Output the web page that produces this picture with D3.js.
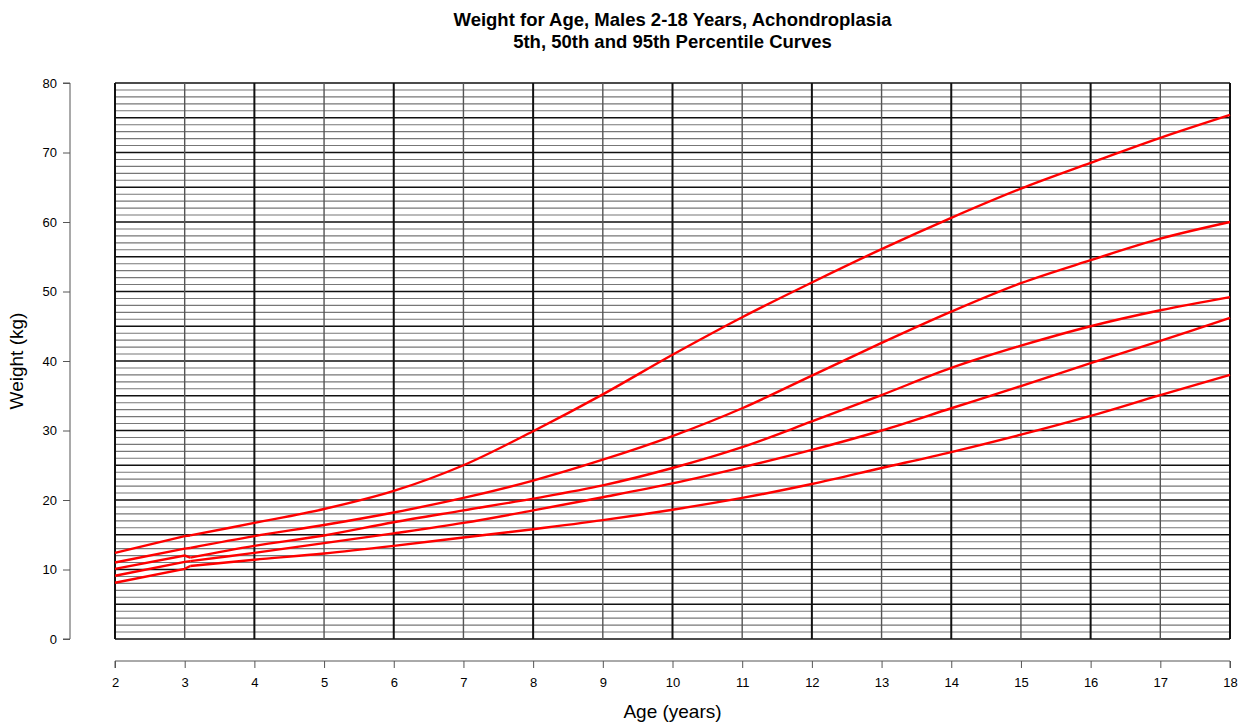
<!DOCTYPE html>
<html>
<head>
<meta charset="utf-8">
<script src="https://cdn.jsdelivr.net/npm/d3@7"></script>
<style>
  body { margin: 0; background: #fff; }
  text { font-family: "Liberation Sans", Arial, Helvetica, sans-serif; fill: #000; }
</style>
</head>
<body>
<div id="chart"></div>
<script>
// ages where the curves were read (3.08 = just after the join at age 3)
const ages = [2, 3, 3.08, 4, 5, 6, 7, 8, 9, 10, 11, 12, 13, 14, 15, 16, 17, 18];

// weight (kg) per curve, top to bottom
const curveA = [12.4, 14.8, 14.9, 16.7, 18.7, 21.3, 25.0, 29.9, 35.2, 40.9, 46.3, 51.3, 56.1, 60.6, 64.8, 68.5, 72.1, 75.4];
const curveB = [11.0, 13.0, 13.1, 14.8, 16.4, 18.2, 20.3, 22.8, 25.8, 29.2, 33.2, 37.9, 42.6, 47.1, 51.2, 54.5, 57.6, 60.0];
const curveC = [10.1, 12.0, 11.7, 13.4, 14.9, 16.8, 18.5, 20.2, 22.1, 24.6, 27.6, 31.3, 35.1, 39.0, 42.2, 45.0, 47.3, 49.2];
const curveD = [9.1, 11.1, 11.2, 12.4, 13.8, 15.2, 16.7, 18.5, 20.4, 22.4, 24.7, 27.2, 30.0, 33.2, 36.4, 39.7, 42.9, 46.2];
const curveE = [8.1, 10.1, 10.5, 11.4, 12.3, 13.4, 14.6, 15.8, 17.1, 18.6, 20.3, 22.3, 24.6, 26.9, 29.4, 32.1, 35.1, 38.0];

const curves = [curveA, curveB, curveC, curveD, curveE];

const xTicks = d3.range(2, 19);          // 2..18
const yTicks = d3.range(0, 81, 10);      // 0..80
const yGrid = d3.range(0, 81);           // every kg

const width = 1239, height = 722;
const margin = {top: 83, right: 9, bottom: 83, left: 115};

const svg = d3.select('#chart').append('svg')
    .attr('width', width)
    .attr('height', height);

const x = d3.scaleLinear().domain([2, 18]).range([margin.left, width - margin.right]);
const y = d3.scaleLinear().domain([0, 80]).range([height - margin.bottom, margin.top]);

// title
svg.append('text')
    .attr('x', (x(2) + x(18)) / 2)
    .attr('y', 26)
    .attr('text-anchor', 'middle')
    .style('font-weight', 'bold')
    .style('font-size', '18.5px')
    .text('Weight for Age, Males 2-18 Years, Achondroplasia');
svg.append('text')
    .attr('x', (x(2) + x(18)) / 2)
    .attr('y', 48)
    .attr('text-anchor', 'middle')
    .style('font-weight', 'bold')
    .style('font-size', '18.5px')
    .text('5th, 50th and 95th Percentile Curves');

// grid - horizontal lines every kg, heavier every 5
const grid = svg.append('g').attr('class', 'grid');
grid.selectAll('line.h')
  .data(yGrid)
  .enter().append('line')
    .attr('class', 'h')
    .attr('x1', x(2))
    .attr('x2', x(18))
    .attr('y1', d => y(d))
    .attr('y2', d => y(d))
    .attr('stroke', d => d % 5 === 0 ? '#111' : '#777')
    .attr('stroke-width', d => d % 5 === 0 ? 1.6 : 1.1);

// vertical lines every year, heavier on even years
grid.selectAll('line.v')
  .data(xTicks)
  .enter().append('line')
    .attr('class', 'v')
    .attr('x1', d => x(d))
    .attr('x2', d => x(d))
    .attr('y1', y(0))
    .attr('y2', y(80))
    .attr('stroke', d => d % 2 === 0 ? '#111' : '#555')
    .attr('stroke-width', d => d % 2 === 0 ? 2 : 1.4);

// curves: straight piece for 2-3 (plus the join), smooth from 3 onwards
const pts = c => c.map((v, i) => [ages[i], v]);
const early = d3.line()
    .x(d => x(d[0]))
    .y(d => y(d[1]));
const later = d3.line()
    .x(d => x(d[0]))
    .y(d => y(d[1]))
    .curve(d3.curveCatmullRom.alpha(0.5));

const cg = svg.append('g');
curves.forEach(c => {
  const p = pts(c);
  cg.append('path')
      .attr('d', early(p.slice(0, 3)))
      .attr('fill', 'none')
      .attr('stroke', '#f00')
      .attr('stroke-width', 2.4);
  cg.append('path')
      .attr('d', later(p.slice(2)))
      .attr('fill', 'none')
      .attr('stroke', '#f00')
      .attr('stroke-width', 2.4);
});

// y axis (detached, R style)
const yAxis = svg.append('g')
    .attr('transform', 'translate(70,0)')
    .call(d3.axisLeft(y).tickValues(yTicks).tickSize(7).tickPadding(6));
yAxis.selectAll('text').style('font-size', '13px');
yAxis.selectAll('path, line').attr('stroke', '#555');

// x axis
const xAxis = svg.append('g')
    .attr('transform', 'translate(0,661)')
    .call(d3.axisBottom(x).tickValues(xTicks).tickFormat(d3.format('d')).tickSize(7).tickPadding(10));
xAxis.selectAll('text').style('font-size', '13px');
xAxis.selectAll('path, line').attr('stroke', '#555');
xAxis.select('.domain').attr('d', `M${x(2)},7V0H${x(18)}V7`);
yAxis.select('.domain').attr('d', `M-7,${y(80)}H0V${y(0)}H-7`);

// axis titles
svg.append('text')
    .attr('x', (x(2) + x(18)) / 2)
    .attr('y', 718)
    .attr('text-anchor', 'middle')
    .style('font-size', '19px')
    .text('Age (years)');
svg.append('text')
    .attr('transform', `translate(23,${(y(0) + y(80)) / 2}) rotate(-90)`)
    .attr('text-anchor', 'middle')
    .style('font-size', '19px')
    .text('Weight (kg)');
</script>
</body>
</html>
